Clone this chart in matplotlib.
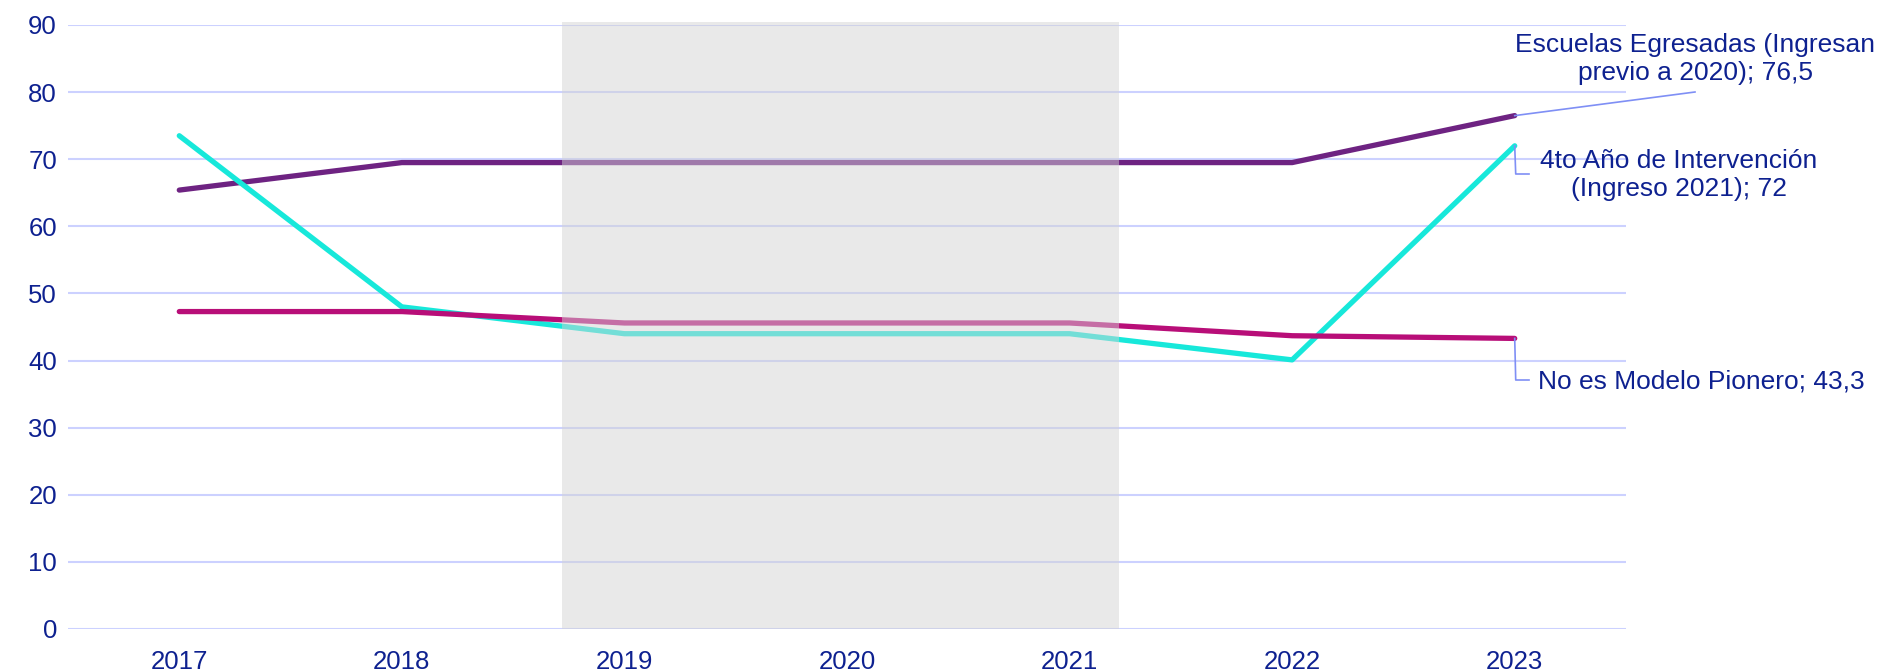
import numpy as np
import matplotlib
matplotlib.use("Agg")
import matplotlib.pyplot as plt
from matplotlib.lines import Line2D
from matplotlib.transforms import IdentityTransform

plt.rcParams['font.family'] = ['Liberation Sans', 'DejaVu Sans']

years = ['2017', '2018', '2019', '2020', '2021', '2022', '2023']
egresadas = [65.4, 69.5, 69.5, 69.5, 69.5, 69.5, 76.5]
cuarto_anio = [73.5, 48.0, 44.0, 44.0, 44.0, 40.1, 72.0]
no_pionero = [47.3, 47.3, 45.6, 45.6, 45.6, 43.7, 43.3]
yticks = [0, 10, 20, 30, 40, 50, 60, 70, 80, 90]

navy = '#0E2190'
grid_c = '#CCD1FF'
leader_c = '#7F8FF5'

W, H = 1882, 672
fig = plt.figure(figsize=(W / 100, H / 100), dpi=100)
ax = fig.add_axes([68 / W, 1 - 629 / H, (1626 - 68) / W, (629 - 25) / H])

x = np.arange(len(years))
ax.plot(x, egresadas, color='#6E2382', lw=3.8, solid_capstyle='round', zorder=3)
ax.plot(x, cuarto_anio, color='#17E8DA', lw=3.8, solid_capstyle='round', zorder=3)
ax.plot(x, no_pionero, color='#B80E78', lw=3.8, solid_capstyle='round', zorder=3)

# grey band over the pandemic years, drawn on top so lines look faded
ax.fill_between([1.72, 4.22], 0, 90.5, color=(212 / 255, 212 / 255, 212 / 255),
                alpha=0.49, lw=0, zorder=4, clip_on=False)

ax.set_xlim(-0.5, 6.5)
ax.set_ylim(0, 90)
ax.set_yticks(yticks)
ax.set_xticks(x)
ax.set_xticklabels(years)
ax.yaxis.grid(True, color=grid_c, lw=1.5, zorder=1)
ax.set_axisbelow(True)
for s in ax.spines.values():
    s.set_visible(False)
ax.tick_params(axis='both', length=0, labelsize=18.5, labelcolor=navy)
ax.tick_params(axis='y', pad=8)
ax.tick_params(axis='x', pad=15)

# labels at the end of each line
def px(xp, yp_top):
    return xp / W, 1 - yp_top / H

fig.text(*px(1695, 59), 'Escuelas Egresadas (Ingresan\nprevio a 2020); 76,5',
         ha='center', va='center', fontsize=19, color=navy, linespacing=1.25)
fig.text(*px(1679, 175), '4to Año de Intervención\n(Ingreso 2021); 72',
         ha='center', va='center', fontsize=19, color=navy, linespacing=1.25)
fig.text(*px(1538, 381), 'No es Modelo Pionero; 43,3',
         ha='left', va='center', fontsize=19, color=navy)

def leader(pts):
    xs = [p[0] for p in pts]
    ys = [p[1] for p in pts]
    fig.add_artist(Line2D(xs, ys, color=leader_c, lw=1.2, transform=IdentityTransform()))

p1 = ax.transData.transform((6, egresadas[-1]))
leader([p1, (1695, H - 92)])
p2 = ax.transData.transform((6, cuarto_anio[-1]))
leader([p2, (p2[0] + 1, H - 174), (1529, H - 174)])
p3 = ax.transData.transform((6, no_pionero[-1]))
leader([p3, (p3[0] + 1, H - 380), (1529, H - 380)])

fig.savefig('out.png', dpi=100)
